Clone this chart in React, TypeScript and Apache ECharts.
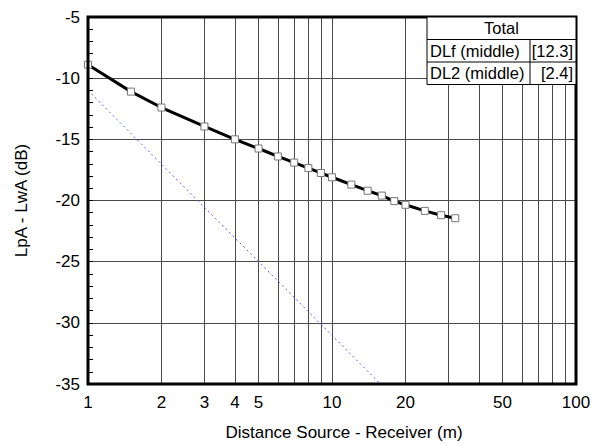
import React, { useEffect, useRef } from "react";
import * as echarts from "echarts";

const distances = [1, 1.5, 2, 3, 4, 5, 6, 7, 8, 9, 10, 12, 14, 16, 18, 20, 24, 28, 32];
const levels = [-8.9, -11.1, -12.4, -13.95, -15.0, -15.75, -16.4, -16.9, -17.35, -17.75, -18.1, -18.7, -19.2, -19.6, -20.05, -20.35, -20.85, -21.2, -21.45];
const refDistances = [1, 15.8];
const refLevels = [-11, -35];
const xTickLabels = [1, 2, 3, 4, 5, 10, 20, 50, 100];
const xGridValues = [1, 2, 3, 4, 5, 6, 7, 8, 9, 10, 20, 30, 40, 50, 60, 70, 80, 90, 100];
const legendRows = [
  { name: "DLf (middle)", value: "[12.3]" },
  { name: "DL2 (middle)", value: "[2.4]" },
];
const legendTitle = "Total";

export default function App() {
  const ref = useRef<HTMLDivElement>(null);
  useEffect(() => {
    if (!ref.current) return;
    const chart = echarts.init(ref.current, undefined, { renderer: "svg" });
    const font = "'Liberation Sans', Arial, sans-serif";
    const bx = 427, by = 17, bw = 149, rh = 22.5, divX = 530;
    const graphics: any[] = [
      { type: "rect", shape: { x: bx, y: by, width: bw, height: rh * 3 }, style: { fill: "#fff", stroke: "#000", lineWidth: 1 }, z: 100 },
      { type: "line", shape: { x1: bx, y1: by + rh, x2: bx + bw, y2: by + rh }, style: { stroke: "#000", lineWidth: 1 }, z: 101 },
      { type: "line", shape: { x1: bx, y1: by + rh * 2, x2: bx + bw, y2: by + rh * 2 }, style: { stroke: "#000", lineWidth: 1 }, z: 101 },
      { type: "line", shape: { x1: divX, y1: by + rh, x2: divX, y2: by + rh * 3 }, style: { stroke: "#000", lineWidth: 1 }, z: 101 },
      { type: "text", x: bx + bw / 2, y: by + rh / 2, style: { text: legendTitle, font: `16.5px ${font}`, fill: "#000", align: "center", verticalAlign: "middle" }, z: 102 },
    ];
    legendRows.forEach((r, i) => {
      const cy = by + rh * (i + 1.5);
      graphics.push({ type: "text", x: bx + 3, y: cy, style: { text: r.name, font: `16.5px ${font}`, fill: "#000", align: "left", verticalAlign: "middle" }, z: 102 });
      graphics.push({ type: "text", x: bx + bw - 3, y: cy, style: { text: r.value, font: `16.5px ${font}`, fill: "#000", align: "right", verticalAlign: "middle" }, z: 102 });
    });
    chart.setOption({
      animation: false,
      backgroundColor: "#fff",
      grid: { left: 88, right: 24, top: 17, bottom: 59, show: true, borderColor: "#000", borderWidth: 3, backgroundColor: "transparent", z: 10 },
      xAxis: {
        type: "log",
        logBase: 10,
        min: 1,
        max: 100,
        name: "Distance Source - Receiver (m)",
        nameLocation: "middle",
        nameGap: 40,
        nameTextStyle: { fontFamily: font, fontSize: 17, color: "#000", padding: [0, 0, 0, 24] },
        axisLine: { show: false },
        axisTick: { show: false, customValues: xGridValues },
        axisLabel: { customValues: xTickLabels, fontFamily: font, fontSize: 17, color: "#000", margin: 10 },
        splitLine: { show: true, lineStyle: { color: "#4a4a4a", width: 1 } },
        minorTick: { show: false },
      },
      yAxis: {
        type: "value",
        min: -35,
        max: -5,
        interval: 5,
        name: "LpA - LwA (dB)",
        nameLocation: "middle",
        nameGap: 58,
        nameTextStyle: { fontFamily: font, fontSize: 17, color: "#000" },
        axisLine: { show: false },
        axisTick: { show: true, inside: true, length: 5, lineStyle: { color: "#000" } },
        minorTick: { show: true, splitNumber: 5, length: 5, lineStyle: { color: "#000" } },
        axisLabel: { fontFamily: font, fontSize: 17, color: "#000", margin: 8 },
        splitLine: { show: true, lineStyle: { color: "#4a4a4a", width: 1 } },
      },
      series: [
        {
          type: "line",
          data: refDistances.map((d, i) => [d, refLevels[i]]),
          showSymbol: false,
          lineStyle: { color: "#5a5aff", width: 1, type: [2, 3] },
          z: 3,
        },
        {
          type: "line",
          data: distances.map((d, i) => [d, levels[i]]),
          symbol: "rect",
          symbolSize: 7,
          showAllSymbol: true,
          lineStyle: { color: "#000", width: 3 },
          itemStyle: { color: "#fff", borderColor: "#777", borderWidth: 1 },
          z: 4,
        },
      ],
      graphic: graphics,
    });
    return () => chart.dispose();
  }, []);
  return <div ref={ref} style={{ width: 600, height: 446, position: "absolute", left: 0, top: 0 }} />;
}
